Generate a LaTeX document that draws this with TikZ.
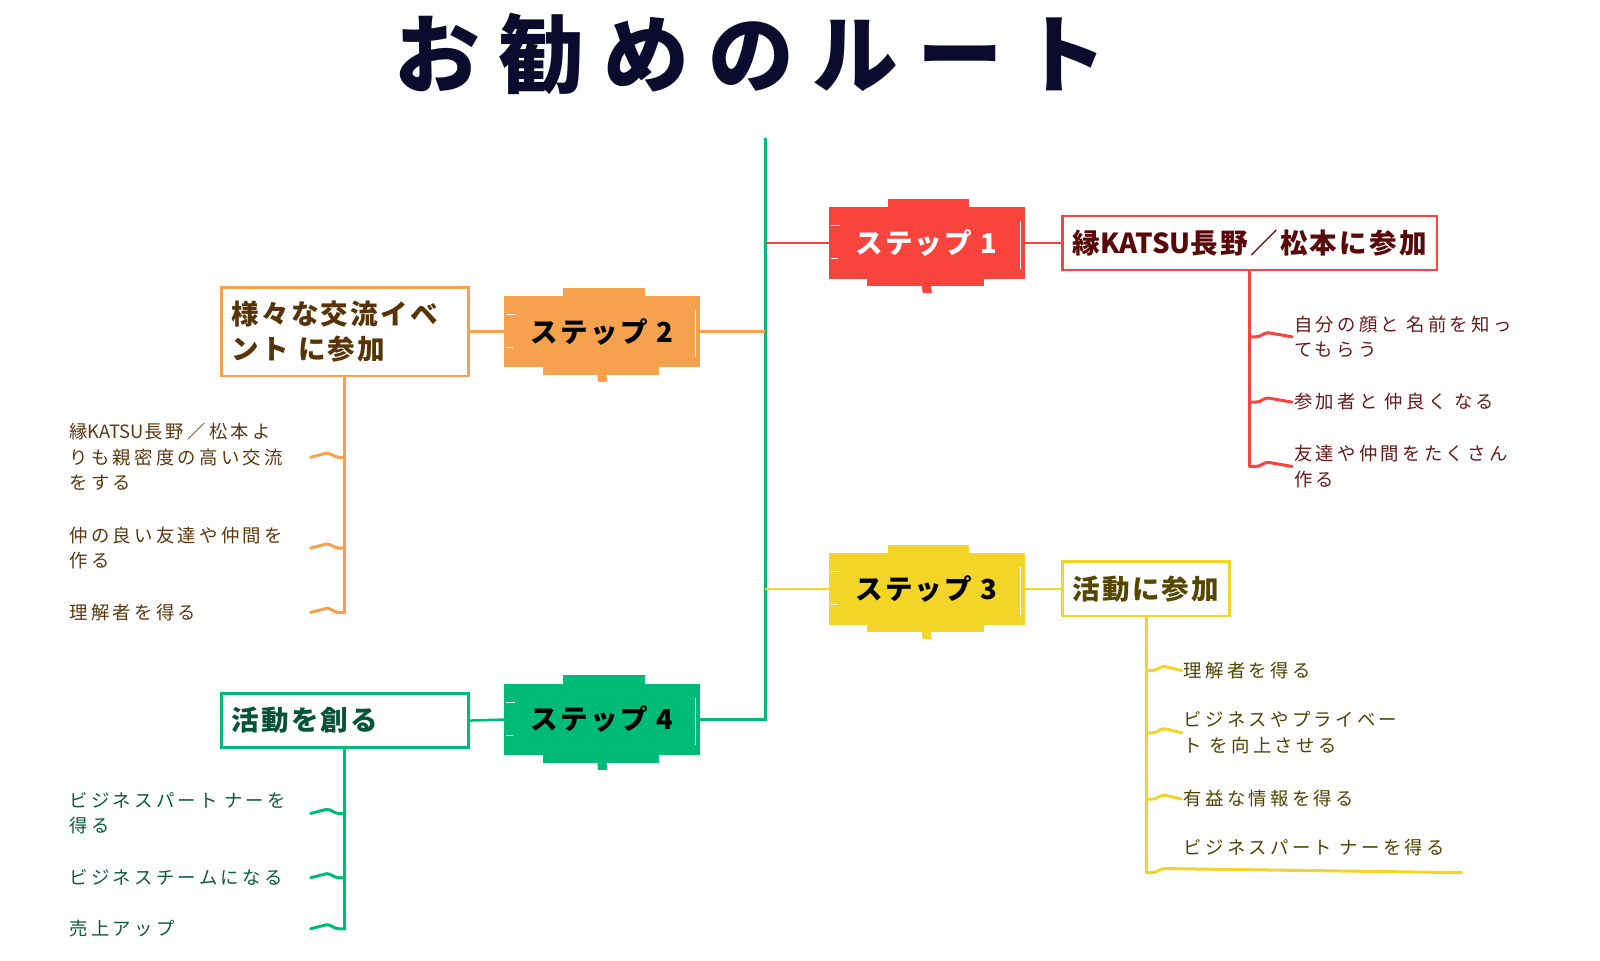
\documentclass[tikz,border=0pt]{standalone}
\usepackage{fontspec}
\usepackage{tikz}
\usetikzlibrary{positioning, calc}

\newfontfamily\jp{Noto Sans CJK JP}[LetterSpace=18]
\newfontfamily\jpbox{Noto Sans CJK JP}[LetterSpace=8]
\newfontfamily\jptitle{Noto Sans CJK JP}[LetterSpace=22]
\newfontfamily\jptight{Noto Sans CJK JP}

\definecolor{redstep}{HTML}{F9443E}
\definecolor{redtext}{HTML}{580808}
\definecolor{redleaf}{HTML}{681818}
\definecolor{orangestep}{HTML}{F6A14D}
\definecolor{orangetext}{HTML}{583305}
\definecolor{orangeleaf}{HTML}{5C3810}
\definecolor{yellowstep}{HTML}{F2D526}
\definecolor{yellowtext}{HTML}{554600}
\definecolor{yellowleaf}{HTML}{4E4400}
\definecolor{greenstep}{HTML}{00BB78}
\definecolor{greentext}{HTML}{065438}
\definecolor{greenleaf}{HTML}{0A5C3B}
\definecolor{titleink}{HTML}{0B0B2E}

% rough paper bits round a step box
\newcommand{\stepbits}[2]{%
	\fill[#2] ($(#1.north west)+(58,2)$) rectangle ($(#1.north west)+(138,-8)$);
	\fill[#2] ($(#1.south west)+(38,-2)$) rectangle ($(#1.south west)+(152,7)$);
	\fill[#2] ($(#1.south)+(-5,5)$) -- ($(#1.south)+(4,5)$) -- ($(#1.south)+(5,14)$) -- ($(#1.south)+(-4,14)$) -- cycle;
	\draw[white, line width=1pt] ($(#1.north west)+(2,18)$) -- ++(9,0) ($(#1.south west)+(2,-20)$) -- ++(7,0);
	\draw[white, line width=0.6pt] ($(#1.north east)+(-5,14)$) -- ($(#1.south east)+(-5,-10)$);
}
\newcommand{\latin}[1]{{\jptight #1}}

\begin{document}
\begin{tikzpicture}[x=1pt, y=-1pt, scale=1.0204, transform shape,
	stepnode/.style={fill=#1, minimum width=192pt, minimum height=70pt, inner sep=0pt, font=\jpbox\bfseries\fontsize{27}{30}\selectfont},
	subnode/.style={draw=#1, fill=white, line width=2.5pt, minimum height=53pt, inner xsep=10pt, align=left, font=\jpbox\bfseries\fontsize{27}{35}\selectfont},
	leaf/.style={align=left, inner sep=2pt, font=\jp\fontsize{18}{25}\selectfont},
	branch/.style={draw=#1, line width=2.5pt},
	stem/.style={draw=#1, line width=3pt, line cap=round},
	rwig/.style={to path={-- ++(6,0) .. controls +(5,0) and +(-5,0) .. ++(12,-4) -- (\tikztotarget)}},
	lwig/.style={to path={-- ++(-6,0) .. controls +(-5,0) and +(5,0) .. ++(-12,-4) -- (\tikztotarget)}}]

	\useasboundingbox (0,0) rectangle (1568,940.8);
	\fill[white] (0,0) rectangle (1568,940.8);

	\node[font=\jptitle\bfseries\fontsize{84}{88}\selectfont, text=titleink] (title) at (736,53) {お勧めのルート};

	% trunk
	\coordinate (trunktop) at (750,135);
	\coordinate (t1) at (750,238);
	\coordinate (t2) at (750,325);
	\coordinate (t3) at (750,577);
	\coordinate (t4) at (750,705);

	% steps
	\node[stepnode=redstep, text=white] (step1) at (908,238) {ステップ 1};
	\node[stepnode=orangestep, text=black] (step2) at (590,325) {ステップ 2};
	\node[stepnode=yellowstep, text=black] (step3) at (908,577) {ステップ 3};
	\node[stepnode=greenstep, text=black] (step4) at (590,705) {ステップ 4};
	\stepbits{step1}{redstep}
	\stepbits{step2}{orangestep}
	\stepbits{step3}{yellowstep}
	\stepbits{step4}{greenstep}

	\node[subnode=redstep, text=redtext, anchor=west] (sub1) at (1040,238) {縁\latin{KATSU}長野／松本に参加};
	\node[subnode=orangestep, text=orangetext, text width=222pt, minimum height=87pt] (sub2) at (338,325) {様々な交流イベ\\ント に参加};
	\node[subnode=yellowstep, text=yellowtext, anchor=west] (sub3) at (1040,577) {活動に参加};
	\node[subnode=greenstep, text=greentext, text width=222pt] (sub4) at (338,706) {活動を創る};

	\draw[branch=greenstep] (trunktop) -- (t4) -- (step4.east);
	\draw[branch=greenstep] (step4.west) -- (sub4.east);
	\draw[branch=redstep] (t1) -- (step1.west) (step1.east) -- (sub1.west);
	\draw[branch=orangestep] (t2) -- (step2.east) (step2.west) -- (sub2.east);
	\draw[branch=yellowstep] (t3) -- (step3.west) (step3.east) -- (sub3.west);

	% leaves of step 1
	\node[leaf, text=redleaf, anchor=west] (r1) at (1266,330) {自分の顔と 名前を知っ\\てもらう};
	\node[leaf, text=redleaf, anchor=west] (r2) at (1266,394) {参加者と 仲良く なる};
	\node[leaf, text=redleaf, anchor=west] (r3) at (1266,457) {友達や仲間をたくさん\\作る};
	\draw[stem=redstep] (sub1.south) -- (sub1.south |- r3.west);
	\foreach \n in {r1,r2,r3}
		\draw[stem=redstep] (sub1.south |- \n.west) to[rwig] (\n.west);

	% leaves of step 2
	\node[leaf, text=orangeleaf, anchor=west, text width=234pt] (o1) at (66,448) {縁\latin{KATSU}長野／松本よ\\りも親密度の高い交流\\をする};
	\node[leaf, text=orangeleaf, anchor=west, text width=234pt] (o2) at (66,537) {仲の良い友達や仲間を\\作る};
	\node[leaf, text=orangeleaf, anchor=west, text width=234pt] (o3) at (66,600) {理解者を得る};
	\draw[stem=orangestep] (sub2.south) -- (sub2.south |- o3.east);
	\foreach \n in {o1,o2,o3}
		\draw[stem=orangestep] (sub2.south |- \n.east) to[lwig] (\n.east);

	% leaves of step 3
	\node[leaf, text=yellowleaf, anchor=west] (y1) at (1158,657) {理解者を得る};
	\node[leaf, text=yellowleaf, anchor=west] (y2) at (1158,718) {ビジネスやプライベー\\ト を向上させる};
	\node[leaf, text=yellowleaf, anchor=west] (y3) at (1158,783) {有益な情報を得る};
	\node[leaf, text=yellowleaf, anchor=west] (y4) at (1158,831) {ビジネスパート ナーを得る};
	\coordinate (y4line) at (1432,855);
	\draw[stem=yellowstep] (sub3.south) -- (sub3.south |- y4line);
	\foreach \n in {y1,y2,y3}
		\draw[stem=yellowstep] (sub3.south |- \n.west) to[rwig] (\n.west);
	\draw[stem=yellowstep] (sub3.south |- y4line) to[rwig] (y4line);

	% leaves of step 4
	\node[leaf, text=greenleaf, anchor=west, text width=234pt] (g1) at (66,797) {ビジネスパート ナーを\\得る};
	\node[leaf, text=greenleaf, anchor=west, text width=234pt] (g2) at (66,860) {ビジネスチームになる};
	\node[leaf, text=greenleaf, anchor=west, text width=234pt] (g3) at (66,910) {売上アップ};
	\draw[stem=greenstep] (sub4.south) -- (sub4.south |- g3.east);
	\foreach \n in {g1,g2,g3}
		\draw[stem=greenstep] (sub4.south |- \n.east) to[lwig] (\n.east);
\end{tikzpicture}
\end{document}
